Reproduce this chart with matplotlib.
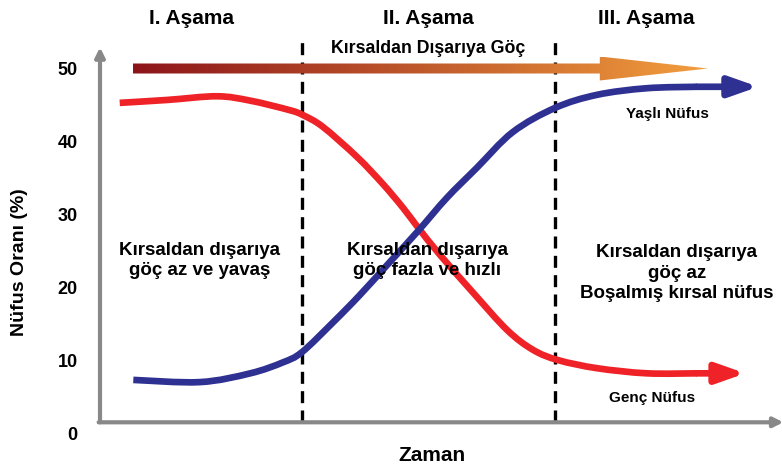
import numpy as np
import matplotlib
matplotlib.use("Agg")
import matplotlib.pyplot as plt
from matplotlib.patches import Polygon, PathPatch
from matplotlib.path import Path

plt.rcParams['font.family'] = ['Liberation Sans', 'DejaVu Sans']

# ---- data (time in 0..100 units, value in %) ----
red_t = [2.9, 9.9, 17.2, 22.1, 27.9, 29.9, 32.8, 37.8, 41.6, 44.6, 46.8, 50.0, 54.9, 59.9, 63.7, 67.4, 73.1, 80.4, 87.8, 94.9]
red_v = [45.3, 45.7, 46.2, 45.6, 44.3, 43.6, 42.0, 37.9, 34.2, 30.9, 28.2, 24.5, 19.3, 14.2, 11.5, 10.1, 9.0, 8.3, 8.3, 8.3]
blue_t = [4.9, 14.7, 22.1, 26.9, 29.7, 34.3, 38.2, 42.6, 46.8, 51.0, 55.4, 60.7, 66.9, 73.1, 80.4, 87.8, 96.8]
blue_v = [7.4, 7.1, 8.3, 9.8, 11.2, 15.3, 19.0, 23.5, 27.8, 32.3, 36.4, 41.3, 44.6, 46.4, 47.3, 47.5, 47.5]
stage_bounds = [29.7, 66.9]
stage_labels = ["I. Aşama", "II. Aşama", "III. Aşama"]
stage_label_t = [13.5, 48.3, 80.4]
stage_desc = ["Kırsaldan dışarıya\ngöç az ve yavaş",
              "Kırsaldan dışarıya\ngöç fazla ve hızlı",
              "Kırsaldan dışarıya\ngöç az\nBoşalmış kırsal nüfus"]
stage_desc_t = [14.6, 48.1, 84.8]
stage_desc_v = [23.7, 23.7, 22.0]
yticks = [0, 10, 20, 30, 40, 50]
migration_arrow_t = [4.8, 73.5, 89.4]   # start, head base, tip
migration_arrow_v = 50
axis_v = 1.6

RED = '#EE2227'
BLUE = '#2E3192'
GRAY = '#888888'
PXV = 7.31  # pixels per unit of value (for arrow sizes)

YMAX = 55
fig = plt.figure(figsize=(7.82, 4.68), dpi=100)
ax = fig.add_axes([100/782, (468-434)/468, 680/782, (YMAX*PXV)/468])
ax.set_xlim(0, 100)
ax.set_ylim(0, YMAX)
for s in ax.spines.values():
    s.set_visible(False)
ax.set_xticks([])
ax.set_yticks(yticks)
ax.set_yticklabels([str(v) for v in yticks], fontsize=13, fontweight='bold')
ax.tick_params(axis='y', length=0, pad=16)


def smooth_path(xs, ys):
    P = np.column_stack([xs, ys]).astype(float)
    P_ext = np.vstack([P[0], P, P[-1]])
    verts = [P[0]]
    codes = [Path.MOVETO]
    for i in range(1, len(P_ext) - 2):
        p0, p1, p2, p3 = P_ext[i-1], P_ext[i], P_ext[i+1], P_ext[i+2]
        c1 = p1 + (p2 - p0) / 6.0
        c2 = p2 - (p3 - p1) / 6.0
        verts += [c1, c2, p2]
        codes += [Path.CURVE4] * 3
    return Path(verts, codes)


# axes arrows
ax.annotate('', xy=(0, 52.9), xytext=(0, axis_v), annotation_clip=False,
            arrowprops=dict(arrowstyle='-|>', color=GRAY, lw=3,
                            mutation_scale=14, shrinkA=0, shrinkB=0))
ax.annotate('', xy=(100.5, axis_v), xytext=(-0.2, axis_v), annotation_clip=False,
            arrowprops=dict(arrowstyle='-|>', color=GRAY, lw=3,
                            mutation_scale=14, shrinkA=0, shrinkB=0))

# stage boundaries
for b in stage_bounds:
    ax.plot([b, b], [axis_v, 54.3], color='black', lw=2.4,
            linestyle=(0, (3.6, 2.2)), clip_on=False, zorder=2)

# gradient migration arrow
t0, t1, t2 = migration_arrow_t
hs = 5 / PXV   # shaft half-thickness
hh = 12 / PXV  # head half-height
mv = migration_arrow_v
poly = Polygon([(t0, mv - hs), (t1, mv - hs), (t1, mv - hh), (t2, mv),
                (t1, mv + hh), (t1, mv + hs), (t0, mv + hs)], closed=True,
               facecolor='none', edgecolor='none', transform=ax.transData)
ax.add_patch(poly)
c0 = np.array([0.55, 0.08, 0.10])
c1 = np.array([0.95, 0.62, 0.24])
g = np.linspace(0, 1, 256)
grad = (c0[None, :] * (1 - g[:, None]) + c1[None, :] * g[:, None])[None, :, :]
im = ax.imshow(grad, extent=[t0, t2, mv - hh, mv + hh],
               aspect='auto', zorder=3, interpolation='bilinear')
im.set_clip_path(poly)
ax.set_xlim(0, 100)
ax.set_ylim(0, YMAX)

# curves
for ts, vs, col, z in [(red_t, red_v, RED, 4), (blue_t, blue_v, BLUE, 5)]:
    ax.add_patch(PathPatch(smooth_path(ts[:-1], vs[:-1]), facecolor='none',
                           edgecolor=col, lw=4.8, capstyle='butt',
                           joinstyle='round', zorder=z))
    ax.annotate('', xy=(ts[-1], vs[-1]), xytext=(ts[-2], vs[-2]),
                annotation_clip=False,
                arrowprops=dict(arrowstyle='-|>,head_length=0.85,head_width=0.3',
                                color=col, lw=4.8, mutation_scale=20,
                                shrinkA=0, shrinkB=0), zorder=z)

# texts
for lab, t in zip(stage_labels, stage_label_t):
    ax.text(t, 56.8, lab, ha='center', va='center', fontsize=15,
            fontweight='bold', clip_on=False)
ax.text(48.2, 52.8, "Kırsaldan Dışarıya Göç", ha='center', va='center',
        fontsize=12.8, fontweight='bold', zorder=6)
for d, t, v in zip(stage_desc, stage_desc_t, stage_desc_v):
    ax.text(t, v, d, ha='center', va='center', fontsize=13.5,
            fontweight='bold', linespacing=1.25, zorder=6)
ax.text(83.4, 43.8, "Yaşlı Nüfus", ha='center', va='center', fontsize=11,
        fontweight='bold')
ax.text(81.2, 4.9, "Genç Nüfus", ha='center', va='center', fontsize=11,
        fontweight='bold')
ax.text(48.8, -2.9, "Zaman", ha='center', va='center', fontsize=15,
        fontweight='bold', clip_on=False)
fig.text(20/782, 1 - 262/468, "Nüfus Oranı (%)", rotation=90, ha='center',
         va='center', fontsize=14, fontweight='bold')

fig.savefig('out.png', dpi=100)
